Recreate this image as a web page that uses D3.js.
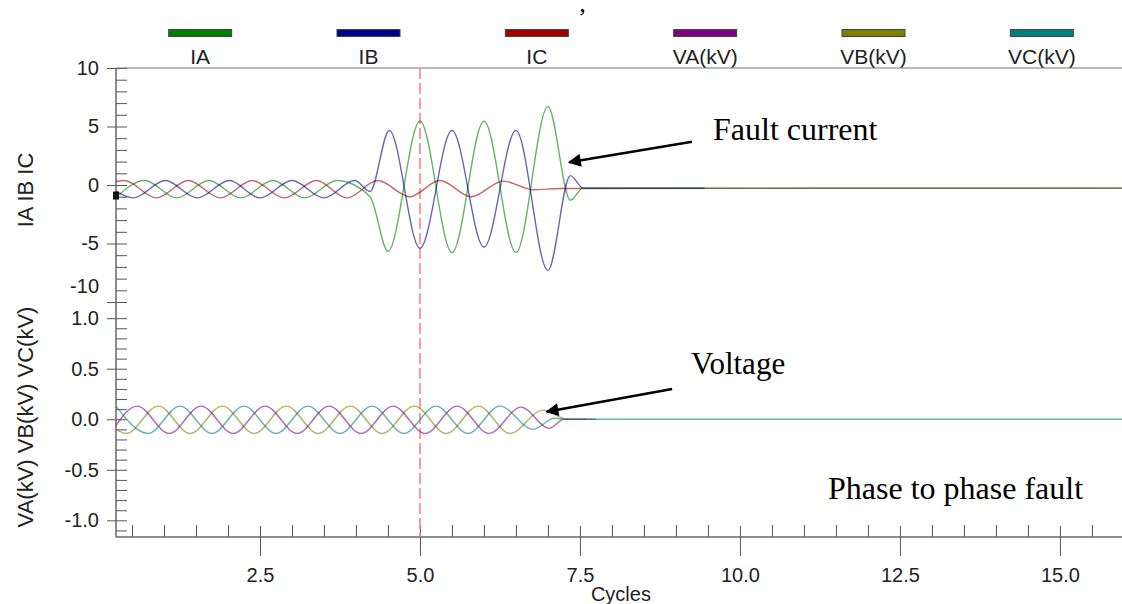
<!DOCTYPE html>
<html>
<head>
<meta charset="utf-8">
<script src="https://cdn.jsdelivr.net/npm/d3@7"></script>
<style>
body { margin: 0; background: #fff; }
svg text { font-family: "Liberation Sans", Arial, sans-serif; fill: #222; }
svg text.note { font-family: "Liberation Serif", "Times New Roman", serif; fill: #000; }
</style>
</head>
<body>
<svg width="1122" height="604"></svg>
<script>
// legend order
var names = ["IA", "IB", "IC", "VA(kV)", "VB(kV)", "VC(kV)"];
var colors = ["#008000", "#00008b", "#a00000", "#800080", "#808000", "#008080"];

var ia = [[0.25,-1.05],[0.70,0.38],[1.20,-1.1],[1.70,0.38],[2.20,-1.1],[2.70,0.38],[3.20,-1.1],[3.70,0.38],
  [4.22,-1.0],[4.50,-5.65],[5.00,5.45],[5.50,-5.77],[6.00,5.45],[6.50,-5.77],[7.00,6.70],[7.35,-1.30],
  [7.55,-0.27],[15.97,-0.27]];
var ib = [[0.25,-0.55],[0.52,-1.1],[1.02,0.38],[1.52,-1.1],[2.02,0.38],[2.50,-1.1],[3.00,0.38],[3.50,-1.1],
  [3.98,0.38],[4.22,-0.55],[4.52,4.66],[5.00,-5.40],[5.50,4.66],[6.00,-5.30],[6.50,4.66],[7.00,-7.30],
  [7.35,0.80],[7.55,-0.27],[9.45,-0.27]];
var ic = [[0.25,0.30],[0.38,0.38],[0.88,-1.1],[1.38,0.38],[1.88,-1.1],[2.38,0.38],[2.88,-1.1],[3.38,0.38],
  [3.86,-1.1],[4.34,0.38],[4.84,-1.0],[5.31,0.38],[5.80,-1.0],[6.30,0.33],[6.77,-0.40],[7.20,-0.30],
  [15.97,-0.27]];

// voltages (kV)
var va = [[0.25,-0.06],[0.58,0.13],[1.08,-0.14],[1.58,0.13],[2.08,-0.14],[2.58,0.13],[3.08,-0.14],[3.58,0.13],
  [4.08,-0.14],[4.58,0.13],[5.08,-0.14],[5.58,0.13],[6.08,-0.14],[6.58,0.12],[7.02,-0.09],[7.25,0.0],[7.75,0.0]];
var vb = [[0.25,-0.10],[0.41,-0.14],[0.91,0.13],[1.41,-0.14],[1.91,0.13],[2.41,-0.14],[2.91,0.13],[3.41,-0.14],
  [3.91,0.13],[4.41,-0.14],[4.91,0.13],[5.41,-0.14],[5.91,0.13],[6.41,-0.14],[6.92,0.09],[7.30,0.0],[7.60,0.0]];
var vc = [[0.25,0.13],[0.75,-0.14],[1.25,0.13],[1.75,-0.14],[2.25,0.13],[2.75,-0.14],[3.25,0.13],[3.75,-0.14],
  [4.25,0.13],[4.75,-0.14],[5.25,0.13],[5.75,-0.14],[6.25,0.13],[6.77,-0.10],[7.10,0.01],[7.30,0.0],[15.97,0.0]];

// ticks
var xMajor = [2.5, 5, 7.5, 10, 12.5, 15];
var xMinor = [0.5,1,1.5,2,3,3.5,4,4.5,5.5,6,6.5,7,8,8.5,9,9.5,10.5,11,11.5,12,13,13.5,14,14.5,15.5];
var topMajor = [-10, -5, 0, 5, 10];
var topMinor = [-9,-8,-7,-6,-4,-3,-2,-1,1,2,3,4,6,7,8,9];
var botMajor = [-1.0, -0.5, 0, 0.5, 1.0];
var botMinor = [-1.1,-0.9,-0.8,-0.7,-0.6,-0.4,-0.3,-0.2,-0.1,0.1,0.2,0.3,0.4,0.6,0.7,0.8,0.9];
var faultAt = 5.0;

var svg = d3.select("svg");

var x = d3.scaleLinear().domain([0.25, 15.97]).range([116, 1122]);
var yTop = d3.scaleLinear().domain([-10, 10]).range([302, 68]);
var yBot = d3.scaleLinear().domain([-1.16, 1.16]).range([536.5, 302]);

// legend
var band = d3.scaleBand().domain(names).range([116, 1126]);
var leg = svg.append("g");
leg.selectAll("rect").data(names).enter().append("rect")
  .attr("x", d => band(d) + band.bandwidth() / 2 - 31.5)
  .attr("y", 29.5).attr("width", 63).attr("height", 7)
  .attr("fill", (d, i) => colors[i])
  .attr("stroke", "#444").attr("stroke-width", 1);
leg.selectAll("text").data(names).enter().append("text")
  .attr("x", d => band(d) + band.bandwidth() / 2)
  .attr("y", 64).attr("text-anchor", "middle")
  .style("font-size", "21px")
  .text(d => d);

svg.append("text").attr("class", "note").attr("x", 578).attr("y", 26)
  .style("font-size", "26px").text("\u2019");

// y axes
function yAxis(scale, major, minor, fmt) {
  var g1 = svg.append("g").attr("transform", "translate(116,0)")
    .call(d3.axisRight(scale).tickValues(minor).tickSize(11).tickFormat(""));
  var g2 = svg.append("g").attr("transform", "translate(107,0)")
    .call(d3.axisRight(scale).tickValues(major).tickSize(20).tickFormat(""));
  var g3 = svg.append("g").attr("transform", "translate(116,0)")
    .call(d3.axisLeft(scale).tickValues(major).tickSize(0).tickPadding(17).tickFormat(fmt));
  [g1, g2, g3].forEach(function (g) {
    g.select(".domain").remove();
    g.selectAll("line").attr("stroke", "#555");
    g.selectAll("text").style("font-size", "20px").attr("fill", "#222");
  });
  return g3;
}
var gt = yAxis(yTop, topMajor, topMinor, d => String(d));
gt.selectAll(".tick text").filter(d => d === -10).attr("dy", "-0.5em");
yAxis(yBot, botMajor, botMinor, d => d.toFixed(1));

// x axis
var gx1 = svg.append("g").attr("transform", "translate(0,537)")
  .call(d3.axisTop(x).tickValues(xMinor).tickSize(12).tickFormat(""));
var gx2 = svg.append("g").attr("transform", "translate(0,556)")
  .call(d3.axisTop(x).tickValues(xMajor).tickSize(30).tickFormat(""));
var gx3 = svg.append("g").attr("transform", "translate(0,537)")
  .call(d3.axisBottom(x).tickValues(xMajor).tickSize(0).tickPadding(31).tickFormat(d => d.toFixed(1)));
[gx1, gx2, gx3].forEach(function (g) {
  g.select(".domain").remove();
  g.selectAll("line").attr("stroke", "#555");
  g.selectAll("text").style("font-size", "20px").attr("fill", "#222");
});

// frame lines
svg.append("line").attr("x1", 116).attr("x2", 116).attr("y1", 68).attr("y2", 537)
  .attr("stroke", "#666").attr("stroke-width", 1.5);
svg.append("line").attr("x1", 116).attr("x2", 1122).attr("y1", 537).attr("y2", 537)
  .attr("stroke", "#666").attr("stroke-width", 1.5);
svg.append("line").attr("x1", 116).attr("x2", 1122).attr("y1", 68).attr("y2", 68)
  .attr("stroke", "#777").attr("stroke-width", 1.2);

// axis titles
svg.append("text").attr("transform", "translate(33,190) rotate(-90)")
  .attr("text-anchor", "middle").style("font-size", "22px").text("IA IB IC");
svg.append("text").attr("transform", "translate(33,417) rotate(-90)")
  .attr("text-anchor", "middle").style("font-size", "22px").text("VA(kV) VB(kV) VC(kV)");
svg.append("text").attr("x", x(8.14)).attr("y", 601).attr("text-anchor", "middle")
  .style("font-size", "20px").text("Cycles");

// fault marker
svg.append("line").attr("x1", x(faultAt)).attr("x2", x(faultAt)).attr("y1", 68).attr("y2", 537)
  .attr("stroke", "#ff7b7b").attr("stroke-width", 1.5).attr("stroke-dasharray", "11,4");

// waveforms
var lineTop = d3.line().x(d => x(d[0])).y(d => yTop(d[1])).curve(d3.curveMonotoneX);
var lineBot = d3.line().x(d => x(d[0])).y(d => yBot(d[1])).curve(d3.curveMonotoneX);

var topSeries = [[ic, colors[2]], [ia, colors[0]], [ib, colors[1]]];
topSeries.forEach(function (s) {
  svg.append("path").datum(s[0]).attr("d", lineTop)
    .attr("fill", "none").attr("stroke", s[1]).attr("stroke-opacity", 0.6).attr("stroke-width", 1.4);
});
var botSeries = [[vb, colors[4]], [va, colors[3]], [vc, colors[5]]];
botSeries.forEach(function (s) {
  svg.append("path").datum(s[0]).attr("d", lineBot)
    .attr("fill", "none").attr("stroke", s[1]).attr("stroke-opacity", 0.6).attr("stroke-width", 1.4);
});

// start cursor
svg.append("rect").attr("x", x(0.25) - 3).attr("y", yTop(-0.9) - 4).attr("width", 6).attr("height", 8)
  .attr("fill", "#111");

// annotations
svg.append("defs").append("marker").attr("id", "ah")
  .attr("viewBox", "0 0 10 10").attr("refX", 9).attr("refY", 5)
  .attr("markerWidth", 6).attr("markerHeight", 5).attr("markerUnits", "strokeWidth")
  .attr("orient", "auto")
  .append("path").attr("d", "M0,0 L10,5 L0,10 Z").attr("fill", "#000");

function arrow(t0, v0, t1, v1, ys) {
  svg.append("line").attr("x1", x(t0)).attr("y1", ys(v0)).attr("x2", x(t1)).attr("y2", ys(v1))
    .attr("stroke", "#000").attr("stroke-width", 2.6).attr("marker-end", "url(#ah)");
}
arrow(9.25, 3.7, 7.33, 1.95, yTop);
arrow(8.94, 0.30, 6.98, 0.075, yBot);

svg.append("text").attr("class", "note").attr("x", 713).attr("y", 140)
  .style("font-size", "32px").text("Fault current");
svg.append("text").attr("class", "note").attr("x", 691).attr("y", 374)
  .style("font-size", "31px").text("Voltage");
svg.append("text").attr("class", "note").attr("x", 828).attr("y", 499)
  .style("font-size", "32px").text("Phase to phase fault");
</script>
</body>
</html>
